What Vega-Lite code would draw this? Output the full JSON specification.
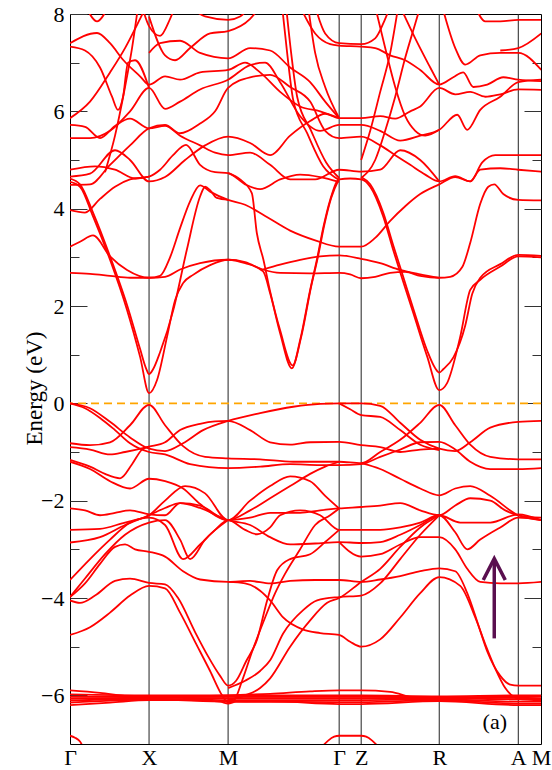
{
"$schema": "https://vega.github.io/schema/vega-lite/v6.json",
"width": 471, "height": 730,
"autosize": {"type": "none"},
"padding": {"left": 70, "top": 14, "right": 11, "bottom": 26},
"background": "white",
"config": {"view": {"stroke": "#000", "strokeWidth": 1}},
"datasets": {
"sym": [{"k":0.79},{"k":1.58},{"k":2.69},{"k":2.91},{"k":3.69},{"k":4.48}],
"arrow": [{"p":"s","k":4.24,"e":-4.83},{"p":"s","k":4.24,"e":-3.22},{"p":"h","k":4.13,"e":-3.63},{"p":"h","k":4.24,"e":-3.19},{"p":"h","k":4.35,"e":-3.63}],
"note": [{"k":4.245,"e":-6.55,"t":"(a)"}],
"bands": [
{"b":"c1","k":0,"e":4.55},{"b":"c1","k":0.1,"e":4.45},{"b":"c1","k":0.23,"e":3.84},{"b":"c1","k":0.4,"e":2.95},{"b":"c1","k":0.57,"e":1.92},{"b":"c1","k":0.7,"e":0.96},{"b":"c1","k":0.79,"e":0.21},{"b":"c1","k":0.87,"e":0.48},{"b":"c1","k":0.97,"e":1.37},{"b":"c1","k":1.05,"e":2.12},{"b":"c1","k":1.13,"e":2.47},{"b":"c1","k":1.23,"e":2.64},{"b":"c1","k":1.4,"e":2.84},{"b":"c1","k":1.58,"e":2.95},{"b":"c1","k":1.75,"e":2.88},{"b":"c1","k":1.93,"e":2.71},{"b":"c1","k":2.0,"e":2.26},{"b":"c1","k":2.1,"e":1.44},{"b":"c1","k":2.217,"e":0.72},{"b":"c1","k":2.3,"e":1.3},{"b":"c1","k":2.4,"e":2.33},{"b":"c1","k":2.467,"e":2.95},{"b":"c1","k":2.533,"e":3.63},{"b":"c1","k":2.6,"e":4.18},{"b":"c1","k":2.69,"e":4.6},{"b":"c1","k":2.8,"e":4.62},{"b":"c1","k":2.91,"e":4.6},{"b":"c1","k":3.0,"e":4.45},{"b":"c1","k":3.13,"e":3.84},{"b":"c1","k":3.23,"e":3.15},{"b":"c1","k":3.33,"e":2.5},{"b":"c1","k":3.43,"e":1.86},{"b":"c1","k":3.57,"e":0.96},{"b":"c1","k":3.69,"e":0.27},{"b":"c1","k":3.767,"e":0.41},{"b":"c1","k":3.9,"e":1.37},{"b":"c1","k":4.0,"e":2.33},{"b":"c1","k":4.1,"e":2.54},{"b":"c1","k":4.3,"e":2.81},{"b":"c1","k":4.48,"e":3.02},{"b":"c1","k":4.71,"e":3.0},
{"b":"c2","k":0,"e":4.62},{"b":"c2","k":0.1,"e":4.5},{"b":"c2","k":0.23,"e":3.92},{"b":"c2","k":0.4,"e":3.02},{"b":"c2","k":0.57,"e":2.02},{"b":"c2","k":0.7,"e":1.12},{"b":"c2","k":0.76,"e":0.72},{"b":"c2","k":0.79,"e":0.6},{"b":"c2","k":0.83,"e":0.7},{"b":"c2","k":0.9,"e":1.05},{"b":"c2","k":1.033,"e":1.92},{"b":"c2","k":1.167,"e":3.15},{"b":"c2","k":1.3,"e":4.25},{"b":"c2","k":1.35,"e":4.45},{"b":"c2","k":1.4,"e":4.38},{"b":"c2","k":1.467,"e":4.22},{"b":"c2","k":1.58,"e":4.18},
{"b":"c2b","k":2.91,"e":4.65},{"b":"c2b","k":3.0,"e":4.5},{"b":"c2b","k":3.13,"e":3.92},{"b":"c2b","k":3.23,"e":3.25},{"b":"c2b","k":3.33,"e":2.6},{"b":"c2b","k":3.43,"e":1.95},{"b":"c2b","k":3.57,"e":1.08},{"b":"c2b","k":3.65,"e":0.72},{"b":"c2b","k":3.69,"e":0.63},{"b":"c2b","k":3.73,"e":0.7},{"b":"c2b","k":3.833,"e":0.95},{"b":"c2b","k":3.95,"e":1.6},{"b":"c2b","k":4.02,"e":2.25},{"b":"c2b","k":4.1,"e":2.58},{"b":"c2b","k":4.3,"e":2.86},{"b":"c2b","k":4.48,"e":3.05},{"b":"c2b","k":4.71,"e":3.03},
{"b":"c2c","k":1.58,"e":4.73},{"b":"c2c","k":1.7,"e":4.6},{"b":"c2c","k":1.817,"e":4.32},{"b":"c2c","k":1.867,"e":3.5},{"b":"c2c","k":1.933,"e":2.95},{"b":"c2c","k":2.0,"e":2.3},{"b":"c2c","k":2.1,"e":1.5},{"b":"c2c","k":2.225,"e":0.78},{"b":"c2c","k":2.31,"e":1.36},{"b":"c2c","k":2.41,"e":2.4},{"b":"c2c","k":2.477,"e":3.0},{"b":"c2c","k":2.543,"e":3.68},{"b":"c2c","k":2.61,"e":4.22},{"b":"c2c","k":2.69,"e":4.62},
{"b":"c3","k":0,"e":2.68},{"b":"c3","k":0.2,"e":2.66},{"b":"c3","k":0.4,"e":2.62},{"b":"c3","k":0.6,"e":2.58},{"b":"c3","k":0.79,"e":2.58},{"b":"c3","k":0.95,"e":2.6},{"b":"c3","k":1.1,"e":2.75},{"b":"c3","k":1.3,"e":2.88},{"b":"c3","k":1.58,"e":2.95},{"b":"c3","k":1.75,"e":2.9},{"b":"c3","k":1.93,"e":2.75},{"b":"c3","k":2.1,"e":2.68},{"b":"c3","k":2.4,"e":2.67},{"b":"c3","k":2.69,"e":2.68},{"b":"c3","k":2.8,"e":2.65},{"b":"c3","k":2.91,"e":2.57},{"b":"c3","k":3.05,"e":2.6},{"b":"c3","k":3.2,"e":2.68},{"b":"c3","k":3.35,"e":2.7},{"b":"c3","k":3.5,"e":2.62},{"b":"c3","k":3.69,"e":2.58},{"b":"c3","k":3.8,"e":2.6},{"b":"c3","k":3.92,"e":2.8},{"b":"c3","k":4.0,"e":3.3},{"b":"c3","k":4.1,"e":4.1},{"b":"c3","k":4.18,"e":4.45},{"b":"c3","k":4.24,"e":4.5},{"b":"c3","k":4.33,"e":4.3},{"b":"c3","k":4.48,"e":4.18},{"b":"c3","k":4.71,"e":4.17},
{"b":"c4","k":0,"e":3.22},{"b":"c4","k":0.1,"e":3.32},{"b":"c4","k":0.23,"e":3.45},{"b":"c4","k":0.4,"e":3.02},{"b":"c4","k":0.57,"e":2.74},{"b":"c4","k":0.79,"e":2.58},{"b":"c4","k":0.9,"e":2.62},{"b":"c4","k":1.0,"e":3.0},{"b":"c4","k":1.1,"e":3.6},{"b":"c4","k":1.2,"e":4.15},{"b":"c4","k":1.3,"e":4.48},{"b":"c4","k":1.4,"e":4.35},{"b":"c4","k":1.58,"e":4.18},{"b":"c4","k":1.75,"e":4.08},{"b":"c4","k":1.95,"e":3.85},{"b":"c4","k":2.2,"e":3.55},{"b":"c4","k":2.45,"e":3.35},{"b":"c4","k":2.69,"e":3.22},{"b":"c4","k":2.91,"e":3.22},{"b":"c4","k":3.05,"e":3.4},{"b":"c4","k":3.2,"e":3.75},{"b":"c4","k":3.35,"e":4.05},{"b":"c4","k":3.5,"e":4.3},{"b":"c4","k":3.69,"e":4.5},{"b":"c4","k":3.85,"e":4.65},{"b":"c4","k":4.0,"e":4.56},{"b":"c4","k":4.1,"e":4.8},{"b":"c4","k":4.3,"e":4.83},{"b":"c4","k":4.48,"e":4.8},{"b":"c4","k":4.71,"e":4.76},
{"b":"c6","k":1.93,"e":2.75},{"b":"c6","k":2.1,"e":2.85},{"b":"c6","k":2.3,"e":2.95},{"b":"c6","k":2.5,"e":3.02},{"b":"c6","k":2.69,"e":3.04},{"b":"c6","k":2.91,"e":2.97},{"b":"c6","k":3.1,"e":2.88},{"b":"c6","k":3.3,"e":2.74},{"b":"c6","k":3.5,"e":2.65},{"b":"c6","k":3.69,"e":2.58},
{"b":"c7","k":0,"e":3.97},{"b":"c7","k":0.15,"e":3.92},{"b":"c7","k":0.3,"e":4.2},{"b":"c7","k":0.45,"e":4.45},{"b":"c7","k":0.6,"e":4.6},{"b":"c7","k":0.79,"e":4.66},{"b":"c7","k":0.9,"e":4.8},{"b":"c7","k":1.03,"e":5.1},{"b":"c7","k":1.16,"e":5.31},{"b":"c7","k":1.3,"e":4.9},{"b":"c7","k":1.45,"e":4.75},{"b":"c7","k":1.58,"e":4.73},{"b":"c7","k":1.75,"e":4.5},{"b":"c7","k":1.9,"e":4.4},{"b":"c7","k":2.1,"e":4.6},{"b":"c7","k":2.3,"e":4.7},{"b":"c7","k":2.5,"e":4.65},{"b":"c7","k":2.69,"e":4.55},
{"b":"c8","k":0,"e":4.66},{"b":"c8","k":0.2,"e":4.72},{"b":"c8","k":0.45,"e":5.2},{"b":"c8","k":0.6,"e":5.0},{"b":"c8","k":0.79,"e":4.56},{"b":"c8","k":0.95,"e":4.65},{"b":"c8","k":1.15,"e":5.0},{"b":"c8","k":1.35,"e":5.3},{"b":"c8","k":1.58,"e":5.48},{"b":"c8","k":1.8,"e":5.35},{"b":"c8","k":2.0,"e":5.1},{"b":"c8","k":2.2,"e":5.5},{"b":"c8","k":2.4,"e":5.8},{"b":"c8","k":2.55,"e":5.95},{"b":"c8","k":2.69,"e":5.86},{"b":"c8","k":2.91,"e":5.86},{"b":"c8","k":3.1,"e":5.9},{"b":"c8","k":3.25,"e":5.85},{"b":"c8","k":3.4,"e":6.0},{"b":"c8","k":3.5,"e":6.1},{"b":"c8","k":3.69,"e":6.48},{"b":"c8","k":3.85,"e":6.35},{"b":"c8","k":4.0,"e":6.4},{"b":"c8","k":4.15,"e":6.3},{"b":"c8","k":4.3,"e":6.35},{"b":"c8","k":4.48,"e":6.45},{"b":"c8","k":4.71,"e":6.44},
{"b":"c9","k":0,"e":4.49},{"b":"c9","k":0.2,"e":4.5},{"b":"c9","k":0.4,"e":4.9},{"b":"c9","k":0.6,"e":5.3},{"b":"c9","k":0.79,"e":5.65},{"b":"c9","k":0.95,"e":5.72},{"b":"c9","k":1.1,"e":5.55},{"b":"c9","k":1.3,"e":5.75},{"b":"c9","k":1.45,"e":6.0},{"b":"c9","k":1.58,"e":6.48},{"b":"c9","k":1.8,"e":6.7},{"b":"c9","k":2.0,"e":6.75},{"b":"c9","k":2.2,"e":6.5},{"b":"c9","k":2.4,"e":6.2},{"b":"c9","k":2.55,"e":5.6},{"b":"c9","k":2.69,"e":5.45},{"b":"c9","k":2.91,"e":5.48},{"b":"c9","k":3.1,"e":5.3},{"b":"c9","k":3.25,"e":5.1},{"b":"c9","k":3.4,"e":4.9},{"b":"c9","k":3.55,"e":4.7},{"b":"c9","k":3.69,"e":4.56},{"b":"c9","k":3.85,"e":4.67},{"b":"c9","k":4.0,"e":4.56},{"b":"c9","k":4.12,"e":4.95},{"b":"c9","k":4.25,"e":5.1},{"b":"c9","k":4.48,"e":5.1},{"b":"c9","k":4.71,"e":5.1},
{"b":"c10","k":0,"e":4.8},{"b":"c10","k":0.25,"e":4.87},{"b":"c10","k":0.45,"e":4.8},{"b":"c10","k":0.65,"e":4.62},{"b":"c10","k":0.79,"e":4.66},
{"b":"c11","k":0,"e":5.45},{"b":"c11","k":0.2,"e":5.45},{"b":"c11","k":0.4,"e":5.6},{"b":"c11","k":0.6,"e":6.0},{"b":"c11","k":0.79,"e":6.48},{"b":"c11","k":0.95,"e":6.05},{"b":"c11","k":1.1,"e":6.2},{"b":"c11","k":1.3,"e":6.45},{"b":"c11","k":1.58,"e":6.65},{"b":"c11","k":1.8,"e":6.95},{"b":"c11","k":1.95,"e":7.0},{"b":"c11","k":2.1,"e":6.6},{"b":"c11","k":2.3,"e":5.9},{"b":"c11","k":2.5,"e":5.6},{"b":"c11","k":2.69,"e":5.72},{"b":"c11","k":2.91,"e":5.72},{"b":"c11","k":3.1,"e":5.6},{"b":"c11","k":3.3,"e":5.4},{"b":"c11","k":3.5,"e":5.5},{"b":"c11","k":3.69,"e":5.62},{"b":"c11","k":3.87,"e":5.93},{"b":"c11","k":3.97,"e":5.62},{"b":"c11","k":4.1,"e":6.03},{"b":"c11","k":4.3,"e":6.3},{"b":"c11","k":4.48,"e":6.6},{"b":"c11","k":4.71,"e":6.65},
{"b":"c12","k":0,"e":5.72},{"b":"c12","k":0.15,"e":5.68},{"b":"c12","k":0.3,"e":5.45},{"b":"c12","k":0.45,"e":5.7},{"b":"c12","k":0.6,"e":5.85},{"b":"c12","k":0.79,"e":5.65},{"b":"c12","k":0.95,"e":5.7},{"b":"c12","k":1.1,"e":5.5},{"b":"c12","k":1.3,"e":5.3},{"b":"c12","k":1.45,"e":5.15},{"b":"c12","k":1.58,"e":5.1},{"b":"c12","k":1.8,"e":5.15},{"b":"c12","k":2.0,"e":4.9},{"b":"c12","k":2.2,"e":4.6},{"b":"c12","k":2.45,"e":4.6},{"b":"c12","k":2.69,"e":4.8},{"b":"c12","k":2.91,"e":4.76},{"b":"c12","k":3.1,"e":4.8},{"b":"c12","k":3.3,"e":5.2},{"b":"c12","k":3.5,"e":5.0},{"b":"c12","k":3.69,"e":4.56},
{"b":"c13","k":0,"e":5.86},{"b":"c13","k":0.2,"e":6.2},{"b":"c13","k":0.4,"e":6.8},{"b":"c13","k":0.55,"e":7.3},{"b":"c13","k":0.7,"e":7.9},{"b":"c13","k":0.76,"e":8.15},
{"b":"c14","k":0,"e":7.4},{"b":"c14","k":0.27,"e":7.61},{"b":"c14","k":0.4,"e":7.4},{"b":"c14","k":0.53,"e":7.06},{"b":"c14","k":0.7,"e":6.72},{"b":"c14","k":0.79,"e":6.55},{"b":"c14","k":0.95,"e":6.72},{"b":"c14","k":1.1,"e":6.65},{"b":"c14","k":1.3,"e":6.8},{"b":"c14","k":1.58,"e":6.85},{"b":"c14","k":1.75,"e":7.0},{"b":"c14","k":1.9,"e":6.8},{"b":"c14","k":2.1,"e":6.4},{"b":"c14","k":2.3,"e":6.1},{"b":"c14","k":2.5,"e":6.0},{"b":"c14","k":2.69,"e":5.86},
{"b":"c15","k":0,"e":7.33},{"b":"c15","k":0.15,"e":7.25},{"b":"c15","k":0.3,"e":6.9},{"b":"c15","k":0.42,"e":6.3},{"b":"c15","k":0.48,"e":6.03},{"b":"c15","k":0.53,"e":6.3},{"b":"c15","k":0.58,"e":7.0},{"b":"c15","k":0.65,"e":7.05},{"b":"c15","k":0.79,"e":6.48},
{"b":"c16","k":0.17,"e":8.1},{"b":"c16","k":0.27,"e":7.85},{"b":"c16","k":0.37,"e":8.1},
{"b":"c17","k":0.35,"e":4.75},{"b":"c17","k":0.45,"e":5.5},{"b":"c17","k":0.55,"e":6.5},{"b":"c17","k":0.62,"e":7.3},{"b":"c17","k":0.68,"e":8.15},
{"b":"d6","k":0.79,"e":7.95},{"b":"d6","k":0.95,"e":7.15},{"b":"d6","k":1.05,"e":7.05},{"b":"d6","k":1.2,"e":7.3},{"b":"d6","k":1.4,"e":7.6},{"b":"d6","k":1.58,"e":7.65},{"b":"d6","k":1.8,"e":7.9},{"b":"d6","k":1.9,"e":8.15},
{"b":"d7","k":0.72,"e":8.15},{"b":"d7","k":0.79,"e":7.75},{"b":"d7","k":0.9,"e":7.55},{"b":"d7","k":1.0,"e":7.9},{"b":"d7","k":1.05,"e":8.15},
{"b":"d8","k":1.2,"e":8.15},{"b":"d8","k":1.35,"e":7.95},{"b":"d8","k":1.58,"e":7.88},{"b":"d8","k":1.7,"e":7.95},{"b":"d8","k":1.8,"e":8.15},
{"b":"d10","k":0.79,"e":7.2},{"b":"d10","k":0.9,"e":7.4},{"b":"d10","k":1.1,"e":7.45},{"b":"d10","k":1.3,"e":7.2},{"b":"d10","k":1.58,"e":7.09},{"b":"d10","k":1.8,"e":7.3},{"b":"d10","k":2.0,"e":7.25},{"b":"d10","k":2.2,"e":6.9},{"b":"d10","k":2.4,"e":6.6},{"b":"d10","k":2.55,"e":6.2},{"b":"d10","k":2.69,"e":5.86},
{"b":"e4","k":2.12,"e":8.15},{"b":"e4","k":2.17,"e":7.2},{"b":"e4","k":2.23,"e":6.24},{"b":"e4","k":2.37,"e":5.55},{"b":"e4","k":2.53,"e":4.87},{"b":"e4","k":2.69,"e":4.59},
{"b":"e5","k":2.16,"e":8.15},{"b":"e5","k":2.21,"e":7.2},{"b":"e5","k":2.27,"e":6.3},{"b":"e5","k":2.41,"e":5.6},{"b":"e5","k":2.56,"e":4.95},{"b":"e5","k":2.69,"e":4.63},
{"b":"e10","k":2.3,"e":8.15},{"b":"e10","k":2.45,"e":7.6},{"b":"e10","k":2.6,"e":7.38},{"b":"e10","k":2.69,"e":7.35},{"b":"e10","k":2.91,"e":7.33},{"b":"e10","k":3.05,"e":7.3},{"b":"e10","k":3.2,"e":7.15},{"b":"e10","k":3.35,"e":7.05},{"b":"e10","k":3.5,"e":6.85},{"b":"e10","k":3.69,"e":6.55},{"b":"e10","k":3.83,"e":6.7},{"b":"e10","k":3.93,"e":6.8},{"b":"e10","k":4.03,"e":6.5},{"b":"e10","k":4.17,"e":6.55},{"b":"e10","k":4.33,"e":6.7},{"b":"e10","k":4.48,"e":6.65},{"b":"e10","k":4.71,"e":6.62},
{"b":"e11","k":2.38,"e":8.15},{"b":"e11","k":2.45,"e":7.2},{"b":"e11","k":2.55,"e":6.5},{"b":"e11","k":2.69,"e":5.86},
{"b":"e12","k":2.45,"e":8.15},{"b":"e12","k":2.55,"e":7.6},{"b":"e12","k":2.69,"e":7.4},{"b":"e12","k":2.91,"e":7.38},{"b":"e12","k":3.05,"e":7.5},{"b":"e12","k":3.15,"e":7.9},{"b":"e12","k":3.2,"e":8.15},
{"b":"h13","k":2.91,"e":5.0},{"b":"h13","k":3.0,"e":5.6},{"b":"h13","k":3.1,"e":6.4},{"b":"h13","k":3.2,"e":7.2},{"b":"h13","k":3.28,"e":8.15},
{"b":"h14","k":2.91,"e":4.63},{"b":"h14","k":3.05,"e":5.0},{"b":"h14","k":3.15,"e":5.6},{"b":"h14","k":3.25,"e":6.3},{"b":"h14","k":3.35,"e":7.1},{"b":"h14","k":3.45,"e":7.8},{"b":"h14","k":3.5,"e":8.15},
{"b":"h7","k":3.05,"e":8.15},{"b":"h7","k":3.15,"e":7.3},{"b":"h7","k":3.25,"e":6.5},{"b":"h7","k":3.35,"e":5.9},{"b":"h7","k":3.45,"e":5.6},{"b":"h7","k":3.55,"e":5.5},{"b":"h7","k":3.69,"e":5.62},
{"b":"h9","k":3.72,"e":8.15},{"b":"h9","k":3.85,"e":7.3},{"b":"h9","k":3.95,"e":6.96},{"b":"h9","k":4.1,"e":7.15},{"b":"h9","k":4.3,"e":7.2},{"b":"h9","k":4.48,"e":7.2},{"b":"h9","k":4.71,"e":6.85},
{"b":"h10","k":4.05,"e":8.15},{"b":"h10","k":4.15,"e":7.85},{"b":"h10","k":4.3,"e":7.85},{"b":"h10","k":4.48,"e":7.88},{"b":"h10","k":4.71,"e":7.88},
{"b":"h11","k":4.3,"e":7.25},{"b":"h11","k":4.48,"e":7.3},{"b":"h11","k":4.71,"e":7.6},
{"b":"h15","k":3.3,"e":8.15},{"b":"h15","k":3.45,"e":7.5},{"b":"h15","k":3.6,"e":6.9},{"b":"h15","k":3.69,"e":6.55},
{"b":"v1","k":0,"e":0},{"b":"v1","k":0.2,"e":-0.1},{"b":"v1","k":0.4,"e":-0.38},{"b":"v1","k":0.6,"e":-0.7},{"b":"v1","k":0.79,"e":-0.93},{"b":"v1","k":0.95,"e":-0.98},{"b":"v1","k":1.13,"e":-0.82},{"b":"v1","k":1.33,"e":-0.55},{"b":"v1","k":1.58,"e":-0.36},{"b":"v1","k":1.9,"e":-0.2},{"b":"v1","k":2.23,"e":-0.07},{"b":"v1","k":2.5,"e":-0.01},{"b":"v1","k":2.69,"e":0},{"b":"v1","k":2.91,"e":0},{"b":"v1","k":3.1,"e":-0.05},{"b":"v1","k":3.3,"e":-0.4},{"b":"v1","k":3.5,"e":-0.75},{"b":"v1","k":3.69,"e":-0.93},{"b":"v1","k":3.85,"e":-0.98},{"b":"v1","k":4.0,"e":-0.8},{"b":"v1","k":4.2,"e":-0.5},{"b":"v1","k":4.48,"e":-0.38},{"b":"v1","k":4.71,"e":-0.36},
{"b":"v2","k":0,"e":-0.82},{"b":"v2","k":0.2,"e":-0.86},{"b":"v2","k":0.4,"e":-0.8},{"b":"v2","k":0.6,"e":-0.45},{"b":"v2","k":0.79,"e":-0.03},{"b":"v2","k":0.95,"e":-0.45},{"b":"v2","k":1.13,"e":-0.88},{"b":"v2","k":1.35,"e":-1.1},{"b":"v2","k":1.58,"e":-1.13},{"b":"v2","k":1.9,"e":-1.15},{"b":"v2","k":2.23,"e":-1.2},{"b":"v2","k":2.5,"e":-1.2},{"b":"v2","k":2.69,"e":-1.2},{"b":"v2","k":2.91,"e":-1.23},{"b":"v2","k":3.1,"e":-1.0},{"b":"v2","k":3.3,"e":-0.75},{"b":"v2","k":3.5,"e":-0.4},{"b":"v2","k":3.69,"e":-0.03},{"b":"v2","k":3.85,"e":-0.45},{"b":"v2","k":4.0,"e":-0.85},{"b":"v2","k":4.2,"e":-1.1},{"b":"v2","k":4.48,"e":-1.15},{"b":"v2","k":4.71,"e":-1.15},
{"b":"v3","k":0,"e":0},{"b":"v3","k":0.15,"e":-0.1},{"b":"v3","k":0.3,"e":-0.3},{"b":"v3","k":0.45,"e":-0.55},{"b":"v3","k":0.6,"e":-0.82},{"b":"v3","k":0.79,"e":-1.0},{"b":"v3","k":0.95,"e":-1.05},{"b":"v3","k":1.2,"e":-1.25},{"b":"v3","k":1.58,"e":-1.33},{"b":"v3","k":1.9,"e":-1.3},{"b":"v3","k":2.2,"e":-1.25},{"b":"v3","k":2.5,"e":-1.27},{"b":"v3","k":2.69,"e":-1.27},{"b":"v3","k":2.91,"e":-1.25},{"b":"v3","k":3.1,"e":-1.1},{"b":"v3","k":3.3,"e":-0.95},{"b":"v3","k":3.5,"e":-0.8},{"b":"v3","k":3.69,"e":-0.79},{"b":"v3","k":3.85,"e":-0.95},{"b":"v3","k":4.0,"e":-1.2},{"b":"v3","k":4.2,"e":-1.35},{"b":"v3","k":4.48,"e":-1.35},{"b":"v3","k":4.71,"e":-1.33},
{"b":"v4","k":0,"e":-0.9},{"b":"v4","k":0.2,"e":-0.95},{"b":"v4","k":0.4,"e":-1.05},{"b":"v4","k":0.55,"e":-1.0},{"b":"v4","k":0.79,"e":-0.89},{"b":"v4","k":0.95,"e":-0.8},{"b":"v4","k":1.1,"e":-0.55},{"b":"v4","k":1.3,"e":-0.42},{"b":"v4","k":1.45,"e":-0.37},{"b":"v4","k":1.58,"e":-0.36},{"b":"v4","k":1.8,"e":-0.55},{"b":"v4","k":2.0,"e":-0.8},{"b":"v4","k":2.2,"e":-0.85},{"b":"v4","k":2.4,"e":-0.8},{"b":"v4","k":2.69,"e":-0.79},{"b":"v4","k":2.91,"e":-0.86},{"b":"v4","k":3.1,"e":-0.9},{"b":"v4","k":3.3,"e":-1.0},{"b":"v4","k":3.5,"e":-0.95},{"b":"v4","k":3.69,"e":-0.93},
{"b":"v5","k":0,"e":-1.16},{"b":"v5","k":0.2,"e":-1.3},{"b":"v5","k":0.35,"e":-1.45},{"b":"v5","k":0.5,"e":-1.54},{"b":"v5","k":0.62,"e":-1.25},{"b":"v5","k":0.72,"e":-0.95},{"b":"v5","k":0.79,"e":-0.89},
{"b":"v6","k":0,"e":-1.2},{"b":"v6","k":0.2,"e":-1.35},{"b":"v6","k":0.4,"e":-1.6},{"b":"v6","k":0.6,"e":-1.75},{"b":"v6","k":0.79,"e":-1.55},{"b":"v6","k":0.95,"e":-1.6},{"b":"v6","k":1.13,"e":-1.75},{"b":"v6","k":1.3,"e":-2.07},{"b":"v6","k":1.58,"e":-2.4},{"b":"v6","k":1.8,"e":-2.2},{"b":"v6","k":2.0,"e":-1.95},{"b":"v6","k":2.2,"e":-1.7},{"b":"v6","k":2.4,"e":-1.45},{"b":"v6","k":2.55,"e":-1.3},{"b":"v6","k":2.69,"e":-1.2},
{"b":"v7","k":0,"e":-2.16},{"b":"v7","k":0.15,"e":-2.2},{"b":"v7","k":0.3,"e":-2.3},{"b":"v7","k":0.45,"e":-2.25},{"b":"v7","k":0.6,"e":-2.2},{"b":"v7","k":0.79,"e":-2.28},{"b":"v7","k":0.95,"e":-2.3},{"b":"v7","k":1.1,"e":-2.05},{"b":"v7","k":1.3,"e":-2.1},{"b":"v7","k":1.58,"e":-2.4},{"b":"v7","k":1.8,"e":-2.35},{"b":"v7","k":2.0,"e":-2.25},{"b":"v7","k":2.3,"e":-2.25},{"b":"v7","k":2.5,"e":-2.2},{"b":"v7","k":2.69,"e":-2.16},{"b":"v7","k":2.91,"e":-2.13},{"b":"v7","k":3.1,"e":-2.1},{"b":"v7","k":3.3,"e":-2.05},{"b":"v7","k":3.5,"e":-2.2},{"b":"v7","k":3.69,"e":-2.3},{"b":"v7","k":3.85,"e":-2.1},{"b":"v7","k":4.0,"e":-1.95},{"b":"v7","k":4.2,"e":-2.0},{"b":"v7","k":4.35,"e":-2.2},{"b":"v7","k":4.48,"e":-2.3},{"b":"v7","k":4.71,"e":-2.35},
{"b":"v8","k":0,"e":-2.6},{"b":"v8","k":0.3,"e":-2.58},{"b":"v8","k":0.55,"e":-2.45},{"b":"v8","k":0.79,"e":-2.35},{"b":"v8","k":0.95,"e":-2.5},{"b":"v8","k":1.13,"e":-3.2},{"b":"v8","k":1.3,"e":-2.9},{"b":"v8","k":1.45,"e":-2.6},{"b":"v8","k":1.58,"e":-2.4},{"b":"v8","k":1.75,"e":-2.6},{"b":"v8","k":1.87,"e":-2.69},{"b":"v8","k":2.0,"e":-2.55},{"b":"v8","k":2.1,"e":-2.3},{"b":"v8","k":2.3,"e":-2.2},{"b":"v8","k":2.5,"e":-2.3},{"b":"v8","k":2.69,"e":-2.6},{"b":"v8","k":2.91,"e":-2.6},{"b":"v8","k":3.1,"e":-2.6},{"b":"v8","k":3.3,"e":-2.55},{"b":"v8","k":3.5,"e":-2.45},{"b":"v8","k":3.69,"e":-2.3},{"b":"v8","k":3.85,"e":-2.65},{"b":"v8","k":3.97,"e":-3.0},{"b":"v8","k":4.1,"e":-2.8},{"b":"v8","k":4.3,"e":-2.55},{"b":"v8","k":4.48,"e":-2.35},{"b":"v8","k":4.71,"e":-2.4},
{"b":"v9","k":0,"e":-2.86},{"b":"v9","k":0.3,"e":-2.75},{"b":"v9","k":0.55,"e":-2.5},{"b":"v9","k":0.79,"e":-2.3},{"b":"v9","k":0.95,"e":-2.15},{"b":"v9","k":1.1,"e":-2.05},{"b":"v9","k":1.3,"e":-2.15},{"b":"v9","k":1.58,"e":-2.4},{"b":"v9","k":1.8,"e":-2.5},{"b":"v9","k":2.0,"e":-2.75},{"b":"v9","k":2.2,"e":-2.9},{"b":"v9","k":2.45,"e":-2.88},{"b":"v9","k":2.69,"e":-2.85},{"b":"v9","k":2.91,"e":-2.87},{"b":"v9","k":3.1,"e":-2.85},{"b":"v9","k":3.3,"e":-2.7},{"b":"v9","k":3.5,"e":-2.5},{"b":"v9","k":3.69,"e":-2.3},{"b":"v9","k":3.9,"e":-2.45},{"b":"v9","k":4.2,"e":-2.45},{"b":"v9","k":4.48,"e":-2.28},{"b":"v9","k":4.71,"e":-2.4},
{"b":"v10","k":0,"e":-3.63},{"b":"v10","k":0.2,"e":-3.2},{"b":"v10","k":0.4,"e":-2.8},{"b":"v10","k":0.6,"e":-2.45},{"b":"v10","k":0.79,"e":-2.3},{"b":"v10","k":0.95,"e":-2.0},{"b":"v10","k":1.15,"e":-1.7},{"b":"v10","k":1.35,"e":-1.85},{"b":"v10","k":1.58,"e":-2.4},{"b":"v10","k":1.8,"e":-2.0},{"b":"v10","k":2.0,"e":-1.7},{"b":"v10","k":2.2,"e":-1.5},{"b":"v10","k":2.4,"e":-1.6},{"b":"v10","k":2.55,"e":-1.9},{"b":"v10","k":2.69,"e":-2.16},
{"b":"v11","k":0,"e":-3.98},{"b":"v11","k":0.15,"e":-3.6},{"b":"v11","k":0.35,"e":-3.1},{"b":"v11","k":0.55,"e":-2.7},{"b":"v11","k":0.79,"e":-2.45},{"b":"v11","k":0.95,"e":-2.4},{"b":"v11","k":1.1,"e":-2.8},{"b":"v11","k":1.2,"e":-3.2},{"b":"v11","k":1.35,"e":-2.8},{"b":"v11","k":1.58,"e":-2.4},
{"b":"v12","k":0,"e":-4.05},{"b":"v12","k":0.1,"e":-4.1},{"b":"v12","k":0.25,"e":-3.95},{"b":"v12","k":0.45,"e":-3.65},{"b":"v12","k":0.6,"e":-3.6},{"b":"v12","k":0.79,"e":-3.69},{"b":"v12","k":0.95,"e":-3.72},{"b":"v12","k":1.08,"e":-4.0},{"b":"v12","k":1.25,"e":-4.7},{"b":"v12","k":1.38,"e":-5.2},{"b":"v12","k":1.5,"e":-5.6},{"b":"v12","k":1.58,"e":-5.8},{"b":"v12","k":1.66,"e":-5.7},{"b":"v12","k":1.76,"e":-5.3},{"b":"v12","k":1.87,"e":-4.85},{"b":"v12","k":1.97,"e":-4.05},{"b":"v12","k":2.07,"e":-3.43},{"b":"v12","k":2.2,"e":-3.2},{"b":"v12","k":2.4,"e":-3.1},{"b":"v12","k":2.55,"e":-2.85},{"b":"v12","k":2.69,"e":-2.6},
{"b":"v13","k":0,"e":-3.98},{"b":"v13","k":0.15,"e":-3.7},{"b":"v13","k":0.3,"e":-3.3},{"b":"v13","k":0.45,"e":-2.95},{"b":"v13","k":0.55,"e":-2.9},{"b":"v13","k":0.65,"e":-3.0},{"b":"v13","k":0.79,"e":-3.05},{"b":"v13","k":0.95,"e":-3.15},{"b":"v13","k":1.13,"e":-3.45},{"b":"v13","k":1.3,"e":-3.62},{"b":"v13","k":1.58,"e":-3.67},{"b":"v13","k":1.8,"e":-3.65},{"b":"v13","k":2.0,"e":-3.7},{"b":"v13","k":2.2,"e":-3.65},{"b":"v13","k":2.45,"e":-3.63},{"b":"v13","k":2.69,"e":-3.63},{"b":"v13","k":2.91,"e":-3.67},{"b":"v13","k":3.1,"e":-3.62},{"b":"v13","k":3.3,"e":-3.55},{"b":"v13","k":3.5,"e":-3.45},{"b":"v13","k":3.69,"e":-3.39},{"b":"v13","k":3.85,"e":-3.45},{"b":"v13","k":3.97,"e":-3.9},{"b":"v13","k":4.08,"e":-4.55},{"b":"v13","k":4.17,"e":-5.1},{"b":"v13","k":4.3,"e":-5.6},{"b":"v13","k":4.4,"e":-5.78},{"b":"v13","k":4.48,"e":-5.8},{"b":"v13","k":4.71,"e":-5.8},
{"b":"v14","k":0,"e":-4.76},{"b":"v14","k":0.2,"e":-4.6},{"b":"v14","k":0.4,"e":-4.3},{"b":"v14","k":0.6,"e":-3.95},{"b":"v14","k":0.79,"e":-3.75},{"b":"v14","k":0.95,"e":-3.8},{"b":"v14","k":1.1,"e":-4.3},{"b":"v14","k":1.25,"e":-4.9},{"b":"v14","k":1.4,"e":-5.5},{"b":"v14","k":1.52,"e":-6.0},{"b":"v14","k":1.58,"e":-6.15},{"b":"v14","k":1.64,"e":-6.1},{"b":"v14","k":1.72,"e":-5.7},{"b":"v14","k":1.82,"e":-5.1},{"b":"v14","k":1.95,"e":-4.4},{"b":"v14","k":2.05,"e":-3.9},{"b":"v14","k":2.15,"e":-3.5},{"b":"v14","k":2.3,"e":-3.0},{"b":"v14","k":2.45,"e":-2.5},{"b":"v14","k":2.6,"e":-2.3},{"b":"v14","k":2.69,"e":-2.16},
{"b":"v15","k":1.58,"e":-3.67},{"b":"v15","k":1.75,"e":-3.7},{"b":"v15","k":1.9,"e":-3.85},{"b":"v15","k":2.0,"e":-4.05},{"b":"v15","k":2.13,"e":-4.4},{"b":"v15","k":2.33,"e":-4.65},{"b":"v15","k":2.5,"e":-4.72},{"b":"v15","k":2.69,"e":-4.76},{"b":"v15","k":2.8,"e":-4.9},{"b":"v15","k":2.91,"e":-5.0},{"b":"v15","k":3.1,"e":-4.85},{"b":"v15","k":3.3,"e":-4.4},{"b":"v15","k":3.5,"e":-3.9},{"b":"v15","k":3.69,"e":-3.57},{"b":"v15","k":3.9,"e":-3.75},{"b":"v15","k":4.05,"e":-4.4},{"b":"v15","k":4.15,"e":-4.95},{"b":"v15","k":4.25,"e":-5.45},{"b":"v15","k":4.35,"e":-5.85},{"b":"v15","k":4.45,"e":-6.05},{"b":"v15","k":4.48,"e":-6.07},{"b":"v15","k":4.71,"e":-6.1},
{"b":"v16","k":1.58,"e":-5.85},{"b":"v16","k":1.75,"e":-5.7},{"b":"v16","k":1.9,"e":-5.5},{"b":"v16","k":2.0,"e":-5.28},{"b":"v16","k":2.13,"e":-4.73},{"b":"v16","k":2.33,"e":-4.25},{"b":"v16","k":2.47,"e":-4.05},{"b":"v16","k":2.69,"e":-3.98},{"b":"v16","k":2.91,"e":-3.95},{"b":"v16","k":3.1,"e":-3.7},{"b":"v16","k":3.3,"e":-3.2},{"b":"v16","k":3.5,"e":-2.7},{"b":"v16","k":3.69,"e":-2.3},
{"b":"v17","k":1.58,"e":-6.1},{"b":"v17","k":1.75,"e":-6.0},{"b":"v17","k":1.9,"e":-5.85},{"b":"v17","k":2.0,"e":-5.65},{"b":"v17","k":2.2,"e":-5.0},{"b":"v17","k":2.4,"e":-4.46},{"b":"v17","k":2.57,"e":-4.1},{"b":"v17","k":2.69,"e":-4.0},{"b":"v17","k":2.91,"e":-3.67},{"b":"v17","k":3.1,"e":-3.4},{"b":"v17","k":3.3,"e":-2.95},{"b":"v17","k":3.5,"e":-2.55},{"b":"v17","k":3.69,"e":-2.3},
{"b":"v18","k":2.69,"e":-2.85},{"b":"v18","k":2.91,"e":-3.15},{"b":"v18","k":3.1,"e":-3.1},{"b":"v18","k":3.3,"e":-2.9},{"b":"v18","k":3.5,"e":-2.75},{"b":"v18","k":3.69,"e":-2.75},{"b":"v18","k":3.85,"e":-3.0},{"b":"v18","k":3.97,"e":-3.4},{"b":"v18","k":4.1,"e":-3.67},{"b":"v18","k":4.3,"e":-3.7},{"b":"v18","k":4.48,"e":-3.7},{"b":"v18","k":4.71,"e":-3.67},
{"b":"v19","k":2.91,"e":-1.23},{"b":"v19","k":3.1,"e":-1.35},{"b":"v19","k":3.3,"e":-1.55},{"b":"v19","k":3.5,"e":-1.75},{"b":"v19","k":3.69,"e":-1.89},{"b":"v19","k":3.85,"e":-1.75},{"b":"v19","k":4.0,"e":-1.7},{"b":"v19","k":4.2,"e":-1.9},{"b":"v19","k":4.48,"e":-2.3},{"b":"v19","k":4.71,"e":-2.4},
{"b":"v20","k":2.69,"e":0},{"b":"v20","k":2.8,"e":-0.12},{"b":"v20","k":2.91,"e":-0.24},{"b":"v20","k":3.1,"e":-0.28},{"b":"v20","k":3.3,"e":-0.55},{"b":"v20","k":3.5,"e":-0.85},{"b":"v20","k":3.69,"e":-0.96},
{"b":"f1","k":0,"e":-5.9},{"b":"f1","k":0.3,"e":-5.95},{"b":"f1","k":0.6,"e":-6.02},{"b":"f1","k":0.79,"e":-6.03},{"b":"f1","k":1.2,"e":-6.02},{"b":"f1","k":1.58,"e":-6.0},{"b":"f1","k":2.0,"e":-5.97},{"b":"f1","k":2.4,"e":-5.92},{"b":"f1","k":2.69,"e":-5.9},{"b":"f1","k":2.91,"e":-5.9},{"b":"f1","k":3.2,"e":-5.93},{"b":"f1","k":3.45,"e":-6.05},{"b":"f1","k":3.69,"e":-6.07},{"b":"f1","k":4.1,"e":-6.05},{"b":"f1","k":4.48,"e":-6.05},{"b":"f1","k":4.71,"e":-6.07},
{"b":"f2","k":0,"e":-5.98},{"b":"f2","k":0.79,"e":-6.0},{"b":"f2","k":1.58,"e":-6.0},{"b":"f2","k":2.69,"e":-6.0},{"b":"f2","k":2.91,"e":-6.0},{"b":"f2","k":3.69,"e":-6.02},{"b":"f2","k":4.48,"e":-6.0},{"b":"f2","k":4.71,"e":-6.0},
{"b":"f3","k":0,"e":-6.03},{"b":"f3","k":0.79,"e":-6.03},{"b":"f3","k":1.58,"e":-6.03},{"b":"f3","k":2.69,"e":-6.03},{"b":"f3","k":2.91,"e":-6.03},{"b":"f3","k":3.69,"e":-6.04},{"b":"f3","k":4.48,"e":-6.03},{"b":"f3","k":4.71,"e":-6.03},
{"b":"f4","k":0,"e":-6.07},{"b":"f4","k":0.79,"e":-6.05},{"b":"f4","k":1.58,"e":-6.06},{"b":"f4","k":2.69,"e":-6.06},{"b":"f4","k":2.91,"e":-6.06},{"b":"f4","k":3.69,"e":-6.06},{"b":"f4","k":4.48,"e":-6.08},{"b":"f4","k":4.71,"e":-6.08},
{"b":"f5","k":0,"e":-6.11},{"b":"f5","k":0.79,"e":-6.07},{"b":"f5","k":1.58,"e":-6.1},{"b":"f5","k":2.69,"e":-6.1},{"b":"f5","k":2.91,"e":-6.1},{"b":"f5","k":3.69,"e":-6.08},{"b":"f5","k":4.48,"e":-6.13},{"b":"f5","k":4.71,"e":-6.13},
{"b":"f6","k":0,"e":-6.15},{"b":"f6","k":0.79,"e":-6.09},{"b":"f6","k":1.58,"e":-6.13},{"b":"f6","k":2.69,"e":-6.14},{"b":"f6","k":2.91,"e":-6.14},{"b":"f6","k":3.69,"e":-6.1},{"b":"f6","k":4.48,"e":-6.17},{"b":"f6","k":4.71,"e":-6.17},
{"b":"f7","k":0,"e":-6.2},{"b":"f7","k":0.4,"e":-6.15},{"b":"f7","k":0.79,"e":-6.1},{"b":"f7","k":1.2,"e":-6.1},{"b":"f7","k":1.5,"e":-6.13},{"b":"f7","k":1.58,"e":-6.17},{"b":"f7","k":1.66,"e":-6.13},{"b":"f7","k":2.0,"e":-6.12},{"b":"f7","k":2.69,"e":-6.18},{"b":"f7","k":2.91,"e":-6.18},{"b":"f7","k":3.69,"e":-6.12},{"b":"f7","k":4.48,"e":-6.2},{"b":"f7","k":4.71,"e":-6.2},
{"b":"g1","k":0,"e":-6.83},{"b":"g1","k":0.05,"e":-6.87},{"b":"g1","k":0.1,"e":-6.95},{"b":"g1","k":0.14,"e":-7.1},
{"b":"g2","k":2.5,"e":-7.1},{"b":"g2","k":2.58,"e":-6.93},{"b":"g2","k":2.64,"e":-6.85},{"b":"g2","k":2.69,"e":-6.83},{"b":"g2","k":2.91,"e":-6.83},{"b":"g2","k":2.96,"e":-6.85},{"b":"g2","k":3.02,"e":-6.93},{"b":"g2","k":3.1,"e":-7.1}
]
},
"layer": [
{
"data": {"name": "sym"},
"mark": {"type": "rule", "color": "#222222", "strokeWidth": 1},
"encoding": {"x": {"field": "k", "type": "quantitative", "scale": {"domain": [0, 4.707], "nice": false, "zero": false},
 "axis": {"orient": "bottom", "values": [0, 0.79, 1.58, 2.69, 2.91, 3.69, 4.48, 4.707], "labelExpr": "datum.value < 0.1 ? 'Γ' : datum.value < 1 ? 'X' : datum.value < 2 ? 'M' : datum.value < 2.8 ? 'Γ' : datum.value < 3 ? 'Z' : datum.value < 4 ? 'R' : datum.value < 4.6 ? 'A' : 'M'", "ticks": false, "domain": false, "grid": false, "title": null, "labelFlush": false, "labelBound": false, "labelOverlap": false, "labelPadding": 3, "labelFont": "Liberation Serif, Times New Roman, DejaVu Serif, serif", "labelFontSize": 22, "labelColor": "#000"}}}
},
{
"data": {"values": [{"e0": 0}]},
"mark": {"type": "rule", "color": "#FFA500", "strokeWidth": 1.6, "strokeDash": [8, 5]},
"encoding": {"y": {"field": "e0", "type": "quantitative", "scale": {"domain": [-7, 8], "nice": false, "zero": false},
 "axis": {"orient": "left", "values": [-5, -3, -1, 1, 3, 5, 7], "tickSize": -9, "labels": false, "domain": false, "grid": false, "title": null, "tickColor": "#333"}}}
},
{
"data": {"name": "bands"},
"mark": {"type": "line", "color": "#FF0000", "strokeWidth": 1.8, "interpolate": "monotone", "clip": true},
"encoding": {
"x": {"field": "k", "type": "quantitative", "scale": {"domain": [0, 4.707], "nice": false, "zero": false},
 "axis": {"orient": "bottom", "values": [0, 0.79, 1.58, 2.69, 2.91, 3.69, 4.48, 4.707], "labelExpr": "datum.value < 0.1 ? 'Γ' : datum.value < 1 ? 'X' : datum.value < 2 ? 'M' : datum.value < 2.8 ? 'Γ' : datum.value < 3 ? 'Z' : datum.value < 4 ? 'R' : datum.value < 4.6 ? 'A' : 'M'", "ticks": false, "domain": false, "grid": false, "title": null, "labelFlush": false, "labelBound": false, "labelOverlap": false, "labelPadding": 3, "labelFont": "Liberation Serif, Times New Roman, DejaVu Serif, serif", "labelFontSize": 22, "labelColor": "#000"}},
"y": {"field": "e", "type": "quantitative", "scale": {"domain": [-7, 8], "nice": false, "zero": false},
 "axis": {"orient": "left", "values": [-6, -4, -2, 0, 2, 4, 6, 8], "format": "d", "tickSize": -17, "labelPadding": 23, "domain": false, "grid": false, "tickColor": "#333", "labelFont": "Liberation Serif, Times New Roman, DejaVu Serif, serif", "labelFontSize": 22, "labelColor": "#000", "title": "Energy (eV)", "titleFont": "Liberation Serif, Times New Roman, DejaVu Serif, serif", "titleFontSize": 23, "titleFontWeight": "normal", "titleColor": "#000", "titlePadding": -6, "titleY": 374}},
"detail": {"field": "b"}
}
},
{
"data": {"name": "arrow"},
"mark": {"type": "line", "color": "#5A0F4F", "strokeWidth": 3.5},
"encoding": {
"x": {"field": "k", "type": "quantitative", "scale": {"domain": [0, 4.707], "nice": false, "zero": false},
 "axis": {"orient": "bottom", "values": [0, 0.79, 1.58, 2.69, 2.91, 3.69, 4.48, 4.707], "labelExpr": "datum.value < 0.1 ? 'Γ' : datum.value < 1 ? 'X' : datum.value < 2 ? 'M' : datum.value < 2.8 ? 'Γ' : datum.value < 3 ? 'Z' : datum.value < 4 ? 'R' : datum.value < 4.6 ? 'A' : 'M'", "ticks": false, "domain": false, "grid": false, "title": null, "labelFlush": false, "labelBound": false, "labelOverlap": false, "labelPadding": 3, "labelFont": "Liberation Serif, Times New Roman, DejaVu Serif, serif", "labelFontSize": 22, "labelColor": "#000"}},
"y": {"field": "e", "type": "quantitative", "scale": {"domain": [-7, 8], "nice": false, "zero": false},
 "axis": {"orient": "right", "values": [-6, -4, -2, 0, 2, 4, 6], "tickSize": -17, "labels": false, "domain": false, "grid": false, "title": null, "tickColor": "#333"}},
"detail": {"field": "p"}
}
},
{
"data": {"name": "note"},
"mark": {"type": "text", "font": "Liberation Serif, Times New Roman, DejaVu Serif, serif", "fontSize": 22, "color": "#000", "align": "center", "baseline": "middle"},
"encoding": {
"x": {"field": "k", "type": "quantitative", "scale": {"domain": [0, 4.707], "nice": false, "zero": false},
 "axis": {"orient": "bottom", "values": [0, 0.79, 1.58, 2.69, 2.91, 3.69, 4.48, 4.707], "labelExpr": "datum.value < 0.1 ? 'Γ' : datum.value < 1 ? 'X' : datum.value < 2 ? 'M' : datum.value < 2.8 ? 'Γ' : datum.value < 3 ? 'Z' : datum.value < 4 ? 'R' : datum.value < 4.6 ? 'A' : 'M'", "ticks": false, "domain": false, "grid": false, "title": null, "labelFlush": false, "labelBound": false, "labelOverlap": false, "labelPadding": 3, "labelFont": "Liberation Serif, Times New Roman, DejaVu Serif, serif", "labelFontSize": 22, "labelColor": "#000"}},
"y": {"field": "e", "type": "quantitative", "scale": {"domain": [-7, 8], "nice": false, "zero": false},
 "axis": {"orient": "right", "values": [-5, -3, -1, 1, 3, 5, 7], "tickSize": -9, "labels": false, "domain": false, "grid": false, "title": null, "tickColor": "#333"}},
"text": {"field": "t"}
}
}
],
"resolve": {"axis": {"y": "independent"}}
}
